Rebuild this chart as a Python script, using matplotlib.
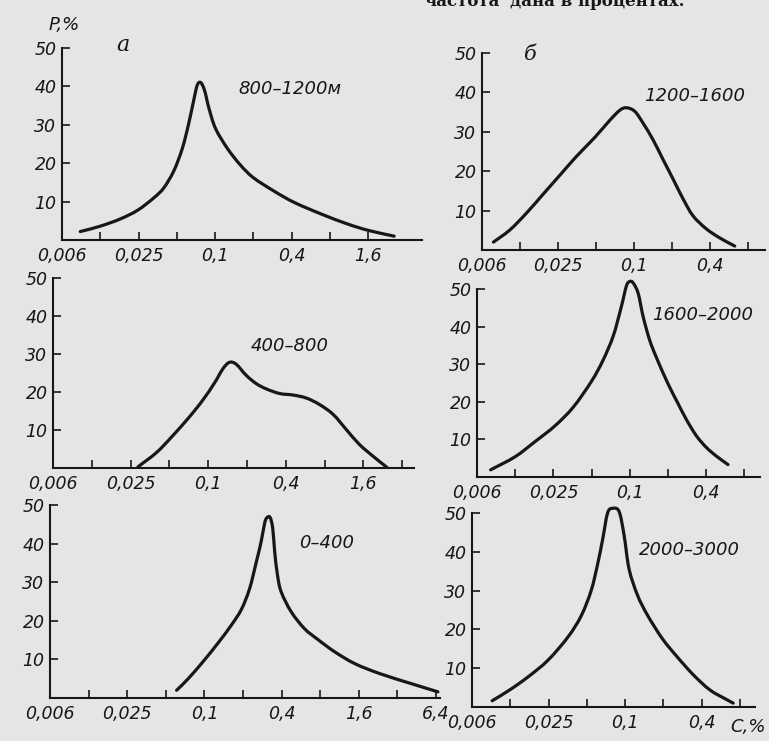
import numpy as np
import matplotlib
matplotlib.use("Agg")
import matplotlib.pyplot as plt
from matplotlib.ticker import NullLocator
from matplotlib.path import Path
from matplotlib.patches import PathPatch

W, H, DPI = 769, 741, 100
BG = "#e5e5e3"
INK = "#171717"

plt.rcParams["font.family"] = ["DejaVu Sans"]
plt.rcParams["font.style"] = "italic"

# concentration axis: each tick doubles C, starting from 0.00625 %
C_BASE = 0.00625
c_tick_labels = ["0,006", "", "0,025", "", "0,1", "", "0,4", "", "1,6", "", "6,4"]
p_ticks = [10, 20, 30, 40, 50]

# depth intervals (m) and frequency P (%) against concentration C (%)
c_800_1200 = [0.0087, 0.0125, 0.018, 0.0247, 0.033, 0.0395, 0.0473, 0.0551, 0.0616,
              0.0674, 0.0722, 0.0769, 0.0824, 0.0895, 0.1007, 0.125, 0.158, 0.2,
              0.291, 0.417, 0.677, 1.09, 1.6, 2.55]
p_800_1200 = [2.2, 3.6, 5.5, 7.8, 11.0, 13.6, 18.0, 23.8, 30.0, 36.0, 40.3, 41.0,
              39.0, 34.2, 29.0, 23.8, 19.5, 16.2, 12.7, 9.8, 6.8, 4.2, 2.5, 1.0]

c_400_800 = [0.0285, 0.0395, 0.0518, 0.0717, 0.0914, 0.1125, 0.130, 0.146, 0.165,
             0.197, 0.236, 0.283, 0.358, 0.456, 0.578, 0.731, 0.932, 1.18, 1.49,
             1.90, 2.43]
p_400_800 = [0.3, 4.0, 8.1, 13.5, 18.0, 22.5, 26.1, 27.8, 27.3, 24.4, 22.2, 20.8,
             19.6, 19.2, 18.4, 16.7, 14.1, 10.1, 6.2, 3.1, 0.2]

c_0_400 = [0.0607, 0.0748, 0.0986, 0.1275, 0.1624, 0.1946, 0.225, 0.253, 0.277,
           0.295, 0.307, 0.325, 0.341, 0.353, 0.371, 0.397, 0.476, 0.602, 0.757,
           1.034, 1.49, 2.34, 4.22, 6.62]
p_0_400 = [2.0, 5.0, 9.6, 14.2, 18.9, 23.0, 28.3, 35.0, 40.5, 45.3, 46.7, 46.8,
           44.0, 38.0, 32.0, 27.5, 22.3, 18.0, 15.3, 12.0, 8.9, 6.3, 3.6, 1.6]

c_1200_1600 = [0.0077, 0.0104, 0.0141, 0.0191, 0.0259, 0.0351, 0.049, 0.0642,
               0.0774, 0.0871, 0.1014, 0.118, 0.1414, 0.169, 0.204, 0.2445, 0.293,
               0.373, 0.476, 0.628]
p_1200_1600 = [2.0, 5.1, 9.4, 14.2, 19.0, 23.8, 28.6, 32.9, 35.5, 36.1, 35.2, 32.2,
               28.0, 23.1, 18.0, 13.0, 8.7, 5.4, 3.1, 1.0]

c_1600_2000 = [0.0080, 0.0125, 0.0179, 0.0257, 0.0359, 0.05, 0.0616, 0.0742, 0.0859,
               0.094, 0.1, 0.1064, 0.1165, 0.1275, 0.1434, 0.1624, 0.2, 0.2395,
               0.279, 0.334, 0.4, 0.479, 0.594]
p_1600_2000 = [1.9, 5.4, 9.4, 13.6, 18.6, 25.5, 31.1, 37.6, 45.4, 50.8, 52.0, 51.6,
               48.8, 42.6, 36.4, 31.7, 24.8, 19.6, 15.3, 11.0, 7.9, 5.6, 3.3]

c_2000_3000 = [0.0090, 0.0125, 0.0173, 0.0248, 0.0356, 0.0451, 0.054, 0.0607,
               0.0664, 0.0727, 0.0796, 0.0895, 0.098, 0.1072, 0.125, 0.1495, 0.196,
               0.255, 0.343, 0.463, 0.628, 0.706]
p_2000_3000 = [1.6, 4.5, 7.8, 12.1, 18.1, 23.5, 30.0, 36.8, 43.1, 50.0, 51.2, 50.4,
               44.3, 35.6, 28.8, 23.7, 17.6, 13.0, 8.3, 4.4, 1.9, 1.0]

fig = plt.figure(figsize=(W / DPI, H / DPI), dpi=DPI)
fig.patch.set_facecolor(BG)


def ftext(x, y, s, **kw):
    """Place text using pixel coordinates measured from the top-left corner."""
    kw.setdefault("color", INK)
    return fig.text(x / W, 1 - y / H, s, **kw)


def smooth_curve(c, p):
    """Bezier path through the measured points (Catmull-Rom tangents in log2 C)."""
    pts = np.column_stack([np.log2(c), np.asarray(p, float)])
    ext = np.vstack([2 * pts[0] - pts[1], pts, 2 * pts[-1] - pts[-2]])
    verts, codes = [pts[0]], [Path.MOVETO]
    for i in range(1, len(ext) - 2):
        q0, q1, q2, q3 = ext[i - 1], ext[i], ext[i + 1], ext[i + 2]
        verts += [q1 + (q2 - q0) / 6, q2 - (q3 - q1) / 6, q2]
        codes += [Path.CURVE4] * 3
    verts = np.array(verts)
    verts[:, 0] = 2 ** verts[:, 0]
    return Path(verts, codes)


def panel(x0, yb, yt, step, k_end, n_ticks, c, p, label, label_xy):
    width = k_end * step
    ax = fig.add_axes([x0 / W, 1 - yb / H, width / W, (yb - yt) / H])
    ax.set_facecolor("none")
    ax.set_xscale("log", base=2)
    ax.set_xlim(C_BASE, C_BASE * 2 ** k_end)
    ax.set_ylim(0, 50)
    ax.set_xticks([C_BASE * 2 ** k for k in range(n_ticks + 1)])
    ax.set_xticklabels(c_tick_labels[:n_ticks + 1])
    ax.xaxis.set_minor_locator(NullLocator())
    ax.set_yticks(p_ticks)
    ax.set_yticklabels([str(v) for v in p_ticks])
    for side in ("top", "right"):
        ax.spines[side].set_visible(False)
    for side in ("left", "bottom"):
        ax.spines[side].set_linewidth(1.5)
        ax.spines[side].set_color(INK)
    ax.tick_params(axis="both", direction="in", length=6, width=1.2,
                   colors=INK, labelsize=12.5)
    ax.tick_params(axis="x", pad=5)
    ax.tick_params(axis="y", pad=4)
    ax.add_patch(PathPatch(smooth_curve(c, p), fill=False, edgecolor=INK,
                           lw=2.3, joinstyle="round", capstyle="round",
                           clip_on=False))
    ftext(label_xy[0], label_xy[1], label, fontsize=13, ha="center", va="center")
    return ax


# left column (а)
panel(62, 240, 48, 38.3, 9.4, 8, c_800_1200, p_800_1200, "800–1200м", (290, 89))
panel(53, 468, 278, 38.8, 9.3, 9, c_400_800, p_400_800, "400–800", (290, 346))
panel(50, 698, 505, 38.6, 10.1, 10, c_0_400, p_0_400, "0–400", (327, 543))

# right column (б)
panel(482, 250, 53, 38.0, 7.45, 7, c_1200_1600, p_1200_1600, "1200–1600", (695, 96))
panel(477, 477, 289, 38.2, 7.4, 7, c_1600_2000, p_1600_2000, "1600–2000", (703, 315))
panel(472, 707, 513, 38.3, 7.4, 7, c_2000_3000, p_2000_3000, "2000–3000", (689, 550))

# axis titles and panel letters
ftext(64, 25, "P,%", fontsize=13, ha="center", va="center")
ftext(748, 727, "C,%", fontsize=13, ha="center", va="center")
ftext(123, 45, "а", fontsize=16, ha="center", va="center", family="DejaVu Serif")
ftext(530, 55, "б", fontsize=15, ha="center", va="center", family="DejaVu Serif")

# last line of the caption text above the figure, cut by the page edge
ftext(500, 6, "частота", fontsize=12, ha="right", va="baseline",
      family="DejaVu Serif", style="normal", weight="bold")
ftext(510, 6, "дана в процентах.", fontsize=12, ha="left", va="baseline",
      family="DejaVu Serif", style="normal", weight="bold")

fig.savefig("out.png", dpi=DPI, facecolor=BG)
